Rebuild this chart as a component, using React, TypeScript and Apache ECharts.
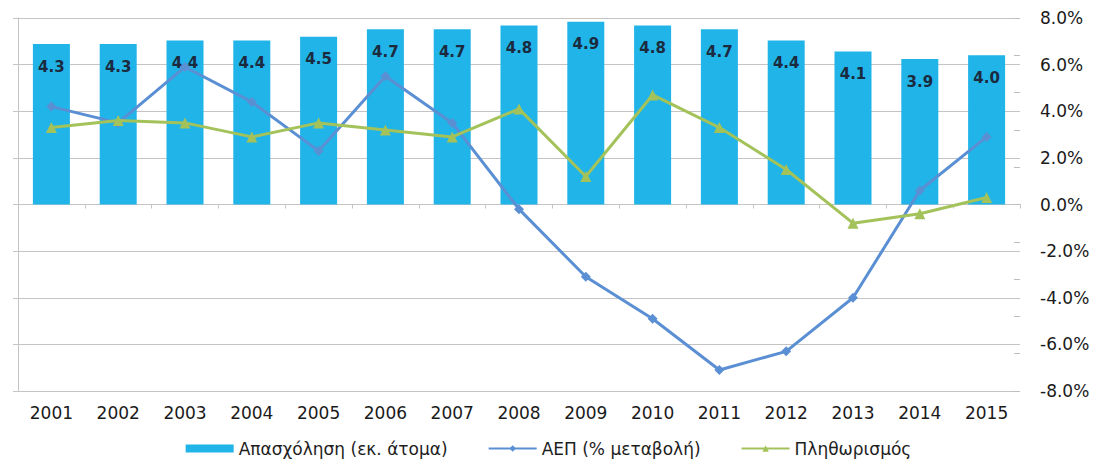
import React, { useEffect, useRef } from "react";
import * as echarts from "echarts";

// Years on the category axis
const years = [
  "2001", "2002", "2003", "2004", "2005", "2006", "2007", "2008",
  "2009", "2010", "2011", "2012", "2013", "2014", "2015",
];

// Employment, millions of persons (bars, secondary scale)
const employment = [4.3, 4.3, 4.4, 4.4, 4.5, 4.7, 4.7, 4.8, 4.9, 4.8, 4.7, 4.4, 4.1, 3.9, 4.0];

// GDP, % change on previous year
const gdpChange = [4.2, 3.5, 5.9, 4.4, 2.3, 5.5, 3.5, -0.2, -3.1, -4.9, -7.1, -6.3, -4.0, 0.6, 2.9];

// Inflation, %
const inflation = [3.3, 3.6, 3.5, 2.9, 3.5, 3.2, 2.9, 4.1, 1.2, 4.7, 3.3, 1.5, -0.8, -0.4, 0.3];

// Percent axis range and step
const pctMin = -8;
const pctMax = 8;
const pctStep = 2;

// Hidden employment axis range and step
const empMin = -5;
const empMax = 5;
const empStep = 1;

const seriesNames = ["Απασχόληση (εκ. άτομα)", "ΑΕΠ (% μεταβολή)", "Πληθωρισμός"];

const FONT = "'DejaVu Sans', 'Liberation Sans', Arial, sans-serif";
const GRID_COLOR = "#c4c4c4";

export default function App() {
  const ref = useRef<HTMLDivElement>(null);

  useEffect(() => {
    if (!ref.current) return;
    const chart = echarts.init(ref.current, undefined, { renderer: "svg" });

    chart.setOption({
      animation: false,
      backgroundColor: "#ffffff",
      textStyle: { fontFamily: FONT },
      grid: { left: 18, right: 77, top: 18, bottom: 70, containLabel: false },
      legend: {
        bottom: -1,
        left: "center",
        itemWidth: 48,
        itemHeight: 8,
        itemGap: 40,
        textStyle: { fontFamily: FONT, fontSize: 17, color: "#1e1e1e" },
        data: [
          { name: seriesNames[0], icon: "rect" },
          { name: seriesNames[1] },
          { name: seriesNames[2] },
        ],
      },
      xAxis: [
        {
          type: "category",
          data: years,
          position: "bottom",
          axisLine: { show: true, lineStyle: { color: GRID_COLOR } },
          axisTick: { show: false },
          axisLabel: {
            fontFamily: FONT,
            fontSize: 17,
            color: "#1a1a1a",
            margin: 13,
          },
        },
        {
          type: "category",
          data: years,
          position: "bottom",
          axisLine: { show: true, onZero: true, onZeroAxisIndex: 0, lineStyle: { color: GRID_COLOR } },
          axisTick: { show: true, length: 4, lineStyle: { color: GRID_COLOR } },
          axisLabel: { show: false },
        },
      ],
      yAxis: [
        {
          type: "value",
          position: "left",
          min: pctMin,
          max: pctMax,
          interval: pctStep,
          axisLine: { show: true, lineStyle: { color: GRID_COLOR } },
          axisTick: { show: true, length: 5, lineStyle: { color: GRID_COLOR } },
          axisLabel: { show: false },
          splitLine: { show: true, lineStyle: { color: GRID_COLOR, width: 1 } },
        },
        {
          type: "value",
          position: "right",
          min: empMin,
          max: empMax,
          interval: empStep,
          axisLine: { show: false },
          axisTick: { show: true, inside: true, length: 6, lineStyle: { color: "#bdbdbd" } },
          axisLabel: { show: false },
          splitLine: { show: false },
        },
        {
          type: "value",
          position: "right",
          min: pctMin,
          max: pctMax,
          interval: pctStep,
          axisLine: { show: false },
          axisTick: { show: false },
          splitLine: { show: false },
          axisLabel: {
            fontFamily: FONT,
            fontSize: 17,
            color: "#1a1a1a",
            margin: 20,
            align: "left",
            formatter: (v: number) => v.toFixed(1) + "%",
          },
        },
      ],
      series: [
        {
          name: seriesNames[0],
          type: "bar",
          xAxisIndex: 0,
          yAxisIndex: 1,
          data: employment,
          barWidth: 37,
          itemStyle: { color: "#21b4e8" },
          label: {
            show: true,
            position: "insideTop",
            distance: 15,
            fontFamily: FONT,
            fontSize: 15,
            fontWeight: "bold",
            color: "#1b2a3e",
            formatter: (p: any) => Number(p.value).toFixed(1),
          },
          z: 2,
        },
        {
          name: seriesNames[1],
          type: "line",
          xAxisIndex: 0,
          yAxisIndex: 0,
          data: gdpChange,
          symbol: "diamond",
          symbolSize: 10,
          lineStyle: { color: "#5b8fd3", width: 3 },
          itemStyle: { color: "#5b8fd3" },
          z: 4,
        },
        {
          name: seriesNames[2],
          type: "line",
          xAxisIndex: 0,
          yAxisIndex: 0,
          data: inflation,
          symbol: "triangle",
          symbolSize: 11,
          lineStyle: { color: "#a3c25a", width: 3 },
          itemStyle: { color: "#a3c25a" },
          z: 5,
        },
      ],
    });

    return () => chart.dispose();
  }, []);

  return (
    <div
      ref={ref}
      style={{ position: "fixed", left: 0, top: 0, width: 1097, height: 461 }}
    />
  );
}
